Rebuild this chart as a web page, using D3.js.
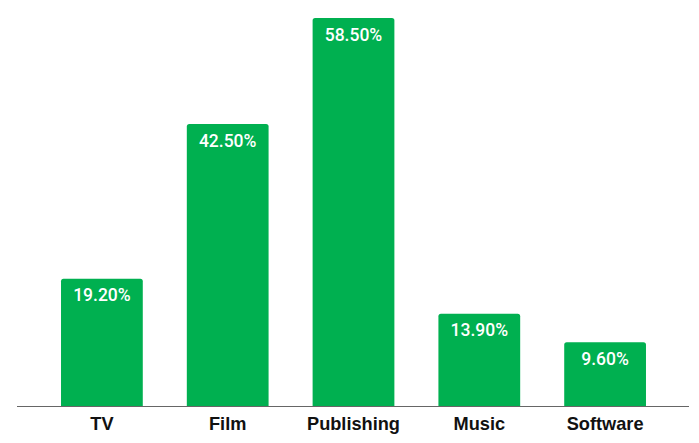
<!DOCTYPE html>
<html><head><meta charset="utf-8">
<script src="https://cdn.jsdelivr.net/npm/d3@7"></script>
<style>body{margin:0;background:#fff}</style>
</head><body>
<svg id="c" width="699" height="443"></svg>
<script>
const categories = ["TV","Film","Publishing","Music","Software"];
const values = [19.2, 42.5, 58.5, 13.9, 9.6];
const labels = ["19.20%","42.50%","58.50%","13.90%","9.60%"];

const svg = d3.select("#c");
const baseY = 406;
const x = d3.scaleBand().domain(categories).range([39, 668]).paddingInner(0.35).paddingOuter(0.175);
const y = d3.scaleLinear().domain([0, 58.5]).range([baseY, 18]);

function roundTop(x0, y0, w, h, r){
  return `M${x0},${y0+h}V${y0+r}Q${x0},${y0} ${x0+r},${y0}H${x0+w-r}Q${x0+w},${y0} ${x0+w},${y0+r}V${y0+h}Z`;
}

svg.selectAll("path.bar").data(values).join("path").attr("class","bar")
  .attr("d",(d,i)=>roundTop(x(categories[i]), y(d), x.bandwidth(), baseY - y(d), 2.5))
  .attr("fill","#00b050");

svg.append("line").attr("x1",17).attr("x2",689).attr("y1",baseY+0.5).attr("y2",baseY+0.5)
  .attr("stroke","#666").attr("stroke-width",1.2);

svg.selectAll("text.val").data(values).join("text").attr("class","val")
  .attr("x",(d,i)=>x(categories[i])+x.bandwidth()/2)
  .attr("y",d=>y(d)+22.5)
  .attr("text-anchor","middle")
  .attr("font-family","Roboto, sans-serif").attr("font-weight","500").attr("font-size",17.5)
  .attr("fill","#fff").text((d,i)=>labels[i]);

svg.selectAll("text.cat").data(categories).join("text").attr("class","cat")
  .attr("x",d=>x(d)+x.bandwidth()/2)
  .attr("y",430)
  .attr("text-anchor","middle")
  .attr("font-family","'Liberation Sans', Arial, sans-serif").attr("font-weight","bold").attr("font-size",18.2)
  .attr("fill","#111").text(d=>d);
</script>
</body></html>
